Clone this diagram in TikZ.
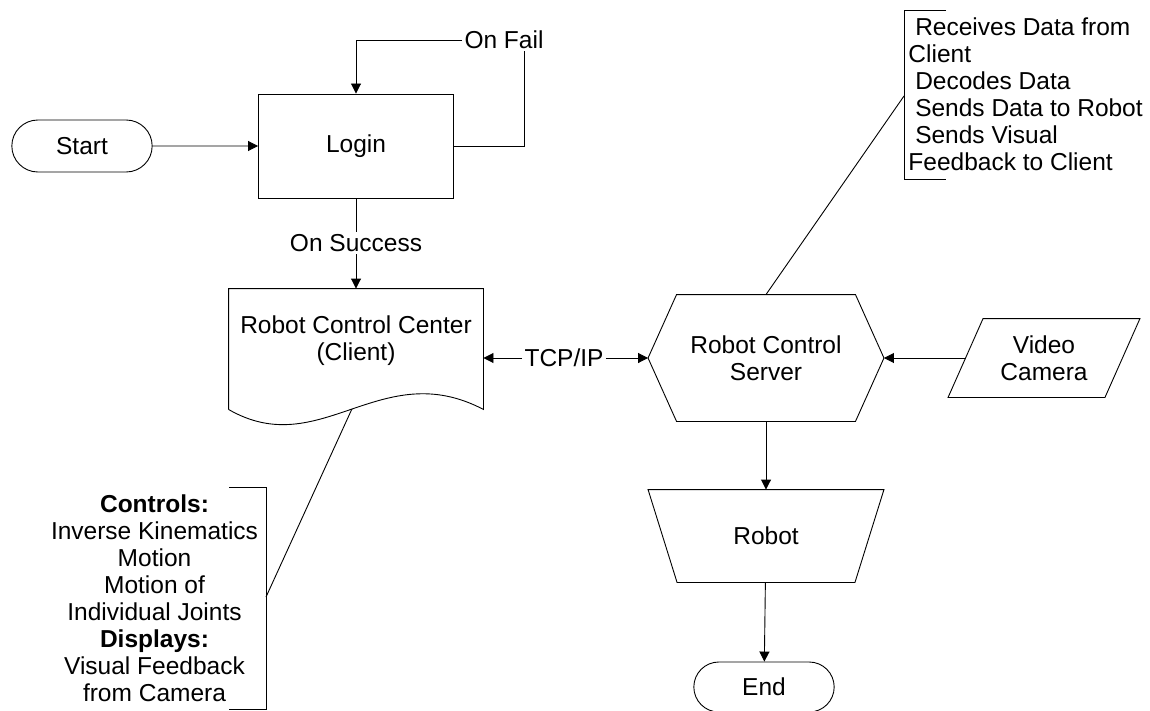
\documentclass[tikz,border=0pt]{standalone}
\usepackage{fontspec}
\setmainfont{Liberation Sans}
\usepackage{tikz}
\usetikzlibrary{arrows.meta}
\usetikzlibrary{shapes.misc}
\usetikzlibrary{calc}

\begin{document}
\begin{tikzpicture}[x=1pt, y=-1pt, line width=0.9pt,
    font=\fontsize{24.5}{27}\selectfont,
    flow/.style={-{Triangle[length=10pt, width=10pt]}},
    term/.style={draw, rounded rectangle, minimum width=147pt, minimum height=52pt},
    shapebox/.style={inner sep=0pt, align=center},
    tag/.style={inner sep=2pt}]

  \useasboundingbox (0,0) rectangle (1150,711);

  % start, login and the retry loop
  \node[term] (start) at (82,146) {Start};
  \node[draw, minimum width=195pt, minimum height=104pt] (login) at (356,146) {Login};
  \node[tag] (fail) at (504,40) {On Fail};
  \node[tag] (success) at (356,243) {On Success};
  \draw[flow] (start) -- (login);
  \draw (login.east) -| ([xshift=20pt]fail.south);
  \draw[flow] (fail.west) -| (login.north);

  % client document with the wavy bottom
  \node[shapebox, minimum width=254pt, minimum height=120pt] (client) at (356,349) {};
  \node[shapebox] (clientname) at ([yshift=8pt]client.center) {Robot Control Center\\(Client)};
  \draw (client.south west) -- (client.north west) -- (client.north east) -- (client.south east)
    .. controls +(-103,-54) and +(92,53) .. coordinate[pos=0.5] (wave) (client.south west);
  \draw (login) -- (success);
  \draw[flow] (success) -- (client.north);

  % server hexagon
  \node[shapebox, minimum width=235pt, minimum height=126pt] (server) at (766,358) {Robot Control\\Server};
  \draw (server.west) -- ([xshift=28.5pt]server.north west) -- ([xshift=-28.5pt]server.north east)
    -- (server.east) -- ([xshift=-28.5pt]server.south east) -- ([xshift=28.5pt]server.south west) -- cycle;

  \node[tag] (tcp) at (564,358) {TCP/IP};
  \draw[flow] (tcp) -- (tcp -| client.east);
  \draw[flow] (tcp) -- (server.west);

  % camera input
  \node[shapebox, minimum width=191pt, minimum height=78pt] (camera) at (1044,358) {Video\\Camera};
  \draw ([xshift=35pt]camera.north west) -- (camera.north east)
    -- ([xshift=-35pt]camera.south east) -- (camera.south west) -- cycle;
  \draw[flow] ([xshift=17.5pt]camera.west) -- (server.east);

  % robot and end
  \node[shapebox, minimum width=235pt, minimum height=92pt] (robot) at (766,536) {Robot};
  \draw (robot.north west) -- (robot.north east) -- ([xshift=-29pt]robot.south east)
    -- ([xshift=29pt]robot.south west) -- cycle;
  \node[term, minimum height=50pt] (finish) at (764,687) {End};
  \draw[flow] (server) -- (robot);
  \draw[flow] (robot) -- (finish);

  % server notes
  \node[align=left, anchor=west, inner sep=0pt] (srvnote) at (908,94.5)
    {~Receives Data from\\Client\\~Decodes Data\\~Sends Data to Robot\\~Sends Visual\\Feedback to Client};
  \draw (946,10) -- (904,10) -- (904,179) -- (946,179);
  \coordinate (srvbrace) at (904,96);
  \draw (server.north) -- (srvbrace);

  % client notes
  \node[align=center, inner sep=0pt] (ctrlnote) at (154.5,598.5)
    {\textbf{Controls:}\\Inverse Kinematics\\Motion\\Motion of\\Individual Joints\\\textbf{Displays:}\\Visual Feedback\\from Camera};
  \draw (229,487) -- (266,487) -- (266,709) -- (229,709);
  \coordinate (ctrlbrace) at (266,597);
  \draw (wave) -- (ctrlbrace);

\end{tikzpicture}
\end{document}
